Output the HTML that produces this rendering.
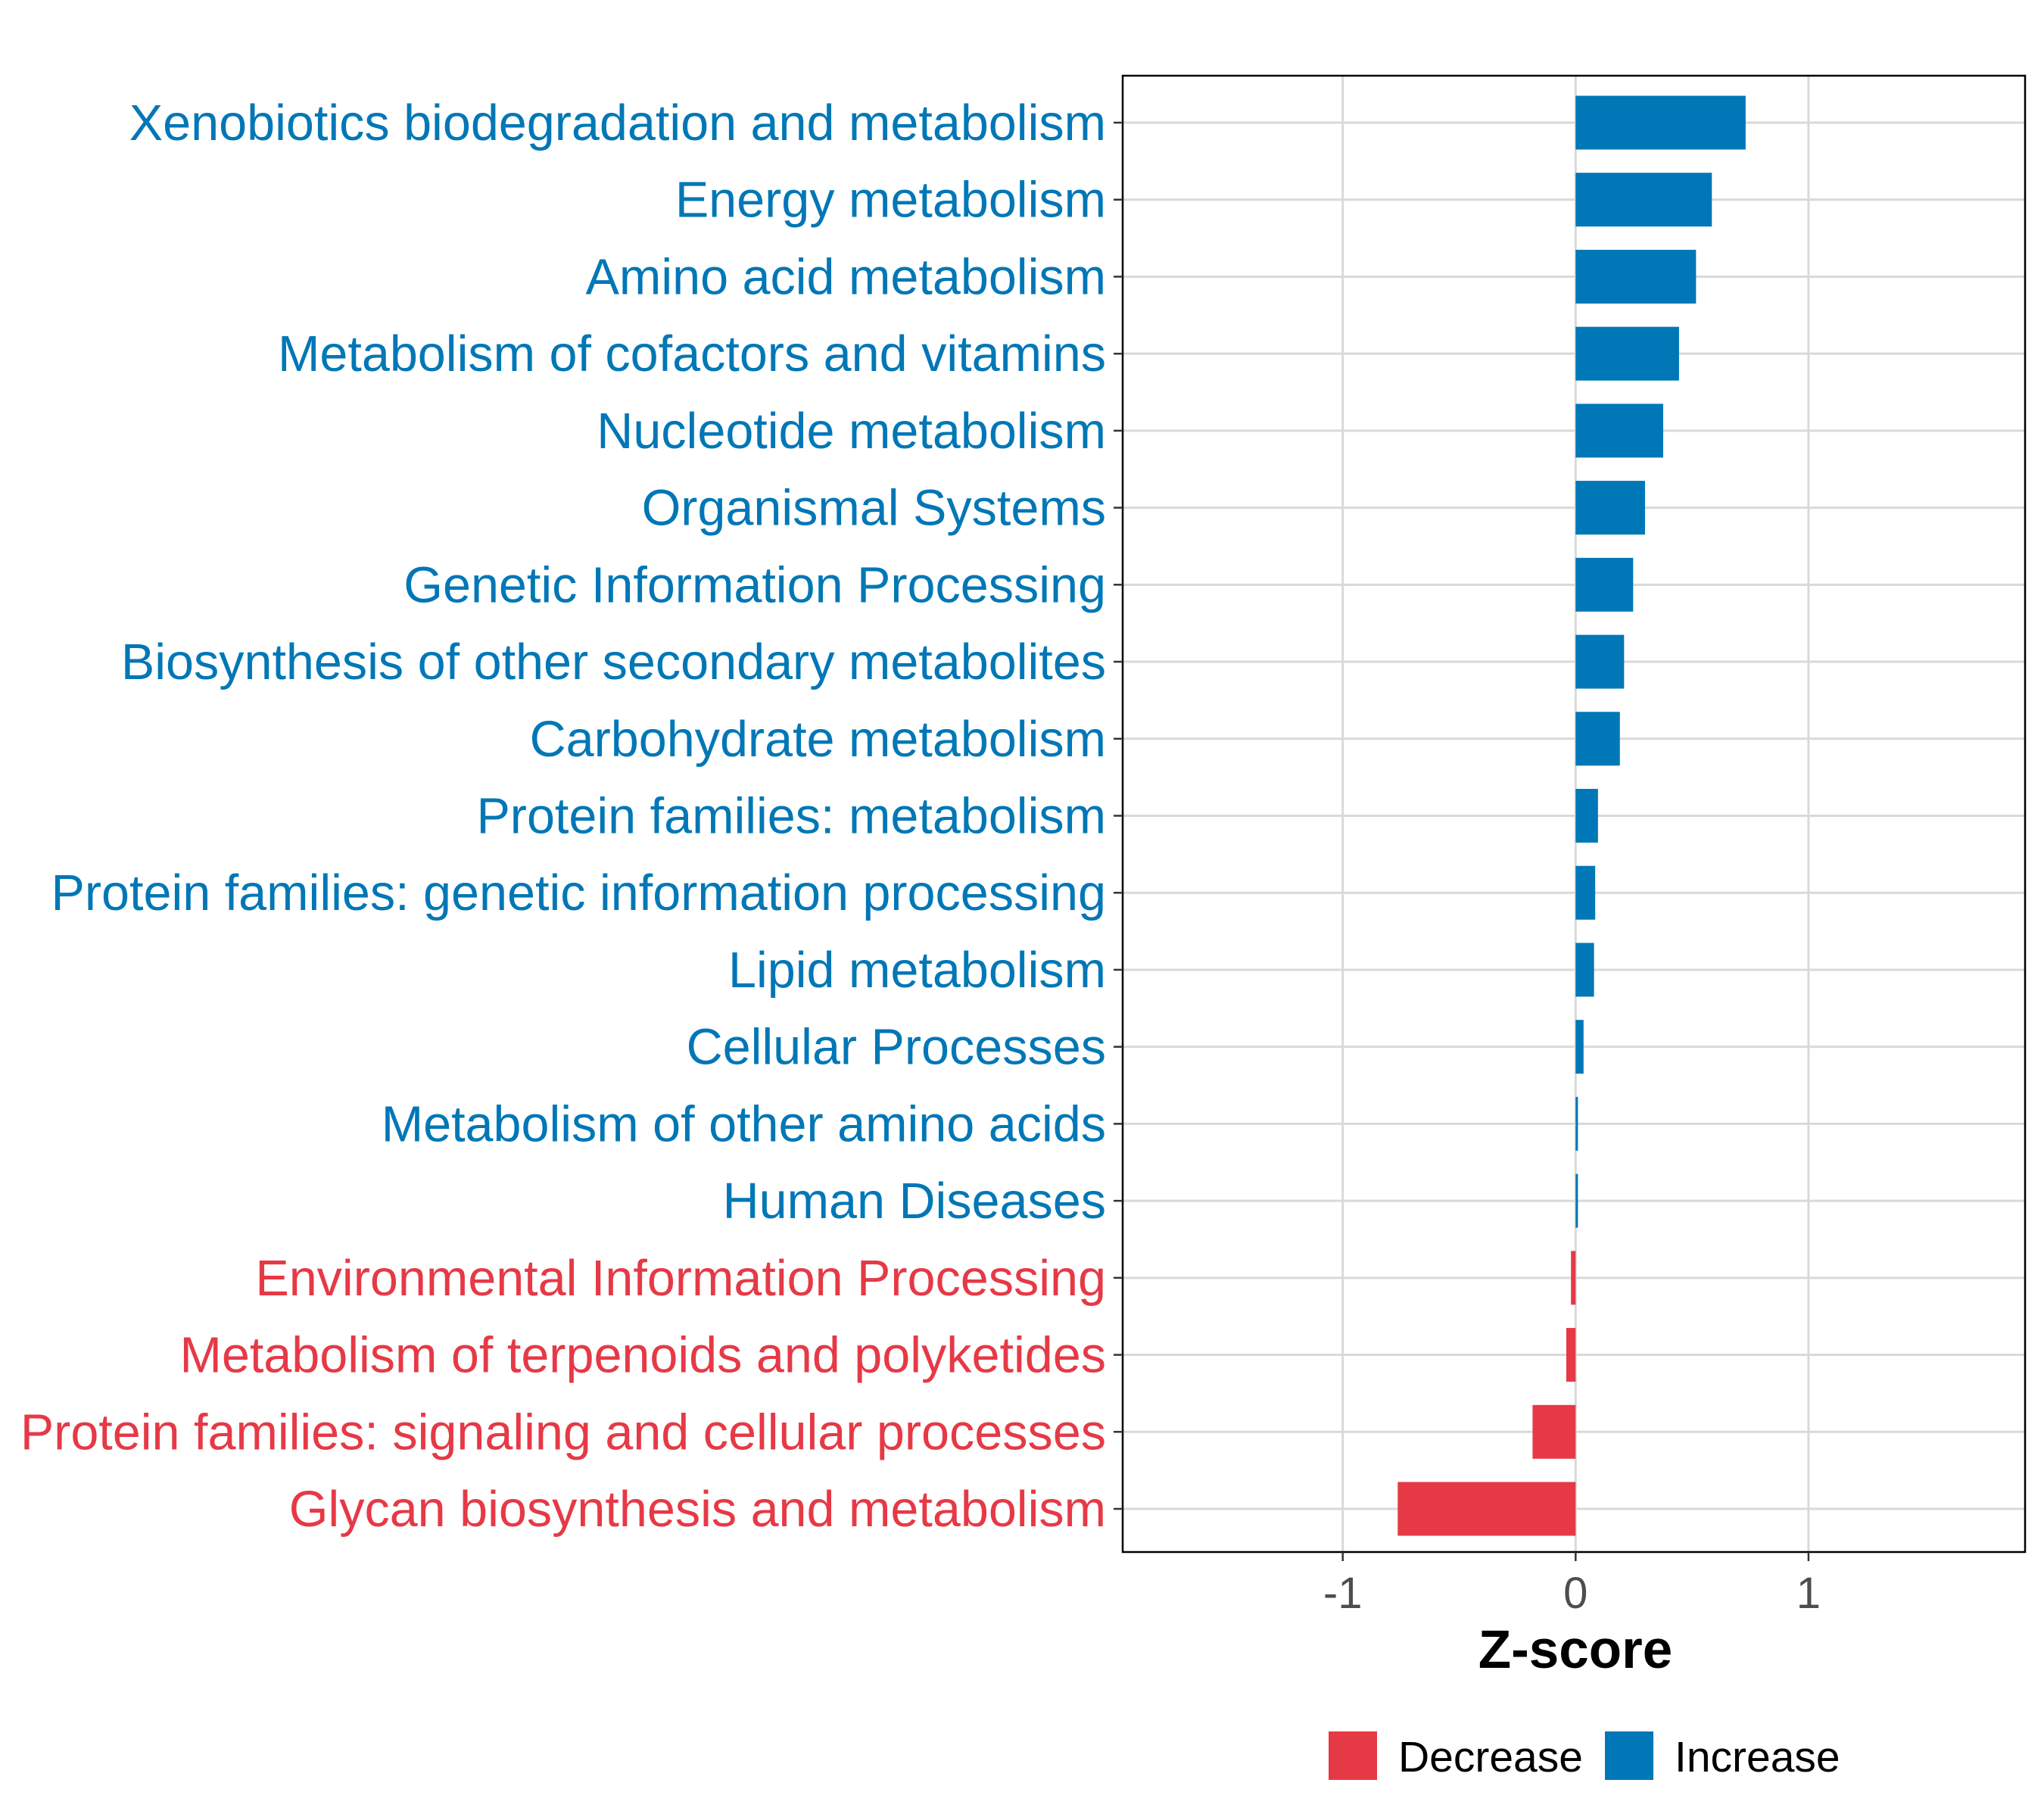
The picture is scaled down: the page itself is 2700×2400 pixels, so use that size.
<!DOCTYPE html>
<html><head><meta charset="utf-8"><style>
html,body{margin:0;padding:0;background:#fff;}
svg{display:block;font-family:"Liberation Sans",Arial,sans-serif;}
</style></head><body>
<svg id="chart" width="2700" height="2400" viewBox="0 0 2700 2400" xmlns="http://www.w3.org/2000/svg">
<g id="grid"></g>
<g id="bars"></g>
<rect x="1483" y="100" width="1192" height="1950" fill="none" stroke="#000" stroke-width="2.5"/>
<g id="ylabels"></g>
<g id="xticks"></g>
<text x="2081" y="2203" font-size="71" font-weight="bold" text-anchor="middle">Z-score</text>
<g>
<rect x="1755" y="2287" width="64" height="64" fill="#e63946"/>
<text x="1847" y="2340" font-size="57" fill="#000">Decrease</text>
<rect x="2120" y="2287" width="64" height="64" fill="#0077b6"/>
<text x="2212" y="2340" font-size="57" fill="#000">Increase</text>
</g>
</svg>
<script>
const categories = ["Xenobiotics biodegradation and metabolism","Energy metabolism","Amino acid metabolism","Metabolism of cofactors and vitamins","Nucleotide metabolism","Organismal Systems","Genetic Information Processing","Biosynthesis of other secondary metabolites","Carbohydrate metabolism","Protein families: metabolism","Protein families: genetic information processing","Lipid metabolism","Cellular Processes","Metabolism of other amino acids","Human Diseases","Environmental Information Processing","Metabolism of terpenoids and polyketides","Protein families: signaling and cellular processes","Glycan biosynthesis and metabolism"];
const zscores = [0.73,0.585,0.517,0.444,0.376,0.298,0.247,0.208,0.19,0.096,0.084,0.079,0.034,0.01,0.01,-0.02,-0.04,-0.185,-0.764];
const xTicks = [-1,0,1];
const xTickLabels = ["-1","0","1"];
const BLUE="#0077b6", RED="#e63946";
const NS="http://www.w3.org/2000/svg";
const xMin=-1.945, xMax=1.93, L=1483, R=2675;
const x = v => L + (v-xMin)/(xMax-xMin)*(R-L);
const y0=162, step=(1993-162)/18;
const y = i => y0 + i*step;
function mk(t,parent){const e=document.createElementNS(NS,t);document.getElementById(parent).appendChild(e);return e;}
xTicks.forEach((t,i)=>{
  const g=mk("line","grid");
  
  
  g.setAttribute("x1",x(t));g.setAttribute("x2",x(t));g.setAttribute("y1",100);g.setAttribute("y2",2050);
  g.setAttribute("stroke","#d9d9d9");g.setAttribute("stroke-width","3");
  const tk=mk("line","xticks");
  
  
  tk.setAttribute("x1",x(t));tk.setAttribute("x2",x(t));tk.setAttribute("y1",2050);tk.setAttribute("y2",2062);
  tk.setAttribute("stroke","#333");tk.setAttribute("stroke-width","2.5");
  const tl=mk("text","xticks");
  
  
  tl.setAttribute("x",x(t));tl.setAttribute("y",2124);tl.setAttribute("font-size","58");
  tl.setAttribute("text-anchor","middle");tl.setAttribute("fill","#4d4d4d");tl.textContent=xTickLabels[i];
});
categories.forEach((c,i)=>{
  const g=mk("line","grid");
  
  
  g.setAttribute("x1",L);g.setAttribute("x2",R);g.setAttribute("y1",y(i));g.setAttribute("y2",y(i));
  g.setAttribute("stroke","#d9d9d9");g.setAttribute("stroke-width","3");
  const v=zscores[i], col=v>=0?BLUE:RED;
  const b=mk("rect","bars");
  
  
  b.setAttribute("x",Math.min(x(0),x(v)));b.setAttribute("width",Math.max(Math.abs(x(v)-x(0)),2));
  b.setAttribute("y",y(i)-35.5);b.setAttribute("height",71);b.setAttribute("fill",col);
  const tk=mk("line","ylabels");
  
  
  tk.setAttribute("x1",1471);tk.setAttribute("x2",1483);tk.setAttribute("y1",y(i));tk.setAttribute("y2",y(i));
  tk.setAttribute("stroke","#333");tk.setAttribute("stroke-width","2.5");
  const t=mk("text","ylabels");
  
  
  t.setAttribute("x",1461);t.setAttribute("y",y(i)+23);t.setAttribute("font-size","66.5");
  t.setAttribute("text-anchor","end");t.setAttribute("fill",col);t.textContent=c;
});
</script>
</body></html>
